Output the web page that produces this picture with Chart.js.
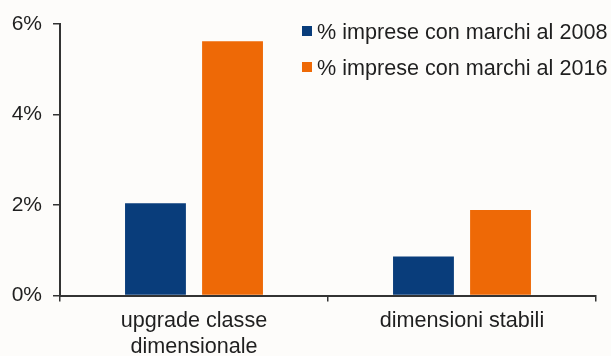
<!DOCTYPE html>
<html lang="it">
<head>
<meta charset="utf-8">
<title>Imprese con marchi</title>
<script src="https://cdn.jsdelivr.net/npm/chart.js@4.4.1/dist/chart.umd.min.js"></script>
<style>
  html, body { margin: 0; padding: 0; background: #fdfcfa; }
  #box { width: 611px; height: 356px; position: relative; }
</style>
</head>
<body>
<div id="box"><canvas id="grafico"></canvas></div>
<script>
// Dati
var categorie = [['upgrade classe', 'dimensionale'], 'dimensioni stabili'];
var etichette = ['% imprese con marchi al 2008', '% imprese con marchi al 2016'];
var valori2008 = [2.04, 0.86];
var valori2016 = [5.62, 1.89];
var tickY = [0, 2, 4, 6];

var coloreBlu = '#093d7b';
var coloreArancio = '#ee6906';
var coloreAssi = '#333333';
var coloreTesto = '#1f1f1f';
var font = 'Liberation Sans, Arial, sans-serif';

// Legenda disegnata dentro il grafico, in alto a destra
var legendaInterna = {
  id: 'legendaInterna',
  afterDraw: function(chart) {
    var ctx = chart.ctx;
    ctx.save();
    ctx.font = '21.6px ' + font;
    ctx.textBaseline = 'middle';
    ctx.textAlign = 'left';
    chart.data.datasets.forEach(function(ds, i) {
      var y = 33 + i * 36;
      ctx.fillStyle = ds.backgroundColor;
      ctx.fillRect(302, y - 7, 10, 10);
      ctx.fillStyle = coloreTesto;
      ctx.fillText(ds.label, 317, y);
    });
    ctx.restore();
  }
};

var ctx = document.getElementById('grafico').getContext('2d');
new Chart(ctx, {
  type: 'bar',
  data: {
    labels: categorie,
    datasets: [{
      label: etichette[0],
      data: valori2008,
      backgroundColor: coloreBlu
    }, {
      label: etichette[1],
      data: valori2016,
      backgroundColor: coloreArancio
    }]
  },
  options: {
    responsive: true,
    maintainAspectRatio: false,
    animation: false,
    categoryPercentage: 0.575,
    barPercentage: 0.79,
    layout: { padding: { top: 24, right: 15, bottom: 0, left: 0 } },
    plugins: {
      legend: { display: false },
      tooltip: { enabled: false }
    },
    scales: {
      x: {
        grid: {
          offset: true,
          drawOnChartArea: false,
          drawTicks: true,
          tickLength: 6,
          color: coloreAssi,
          lineWidth: 1.5
        },
        border: { display: true, color: coloreAssi, width: 2 },
        ticks: {
          color: coloreTesto,
          padding: 7,
          maxRotation: 0,
          font: { family: font, size: 21.6, lineHeight: 1.2 }
        },
        afterFit: function(scale) { scale.height = 60.5; }
      },
      y: {
        min: 0,
        max: 6,
        afterBuildTicks: function(scale) {
          scale.ticks = tickY.map(function(v) { return { value: v }; });
        },
        grid: {
          drawOnChartArea: false,
          drawTicks: true,
          tickLength: 7,
          color: coloreAssi,
          lineWidth: 1.5
        },
        border: { display: true, color: coloreAssi, width: 2 },
        ticks: {
          color: coloreTesto,
          padding: 11,
          font: { family: font, size: 21 },
          callback: function(v) { return v + '%'; }
        },
        afterFit: function(scale) { scale.width = 60; }
      }
    }
  },
  plugins: [legendaInterna]
});
</script>
</body>
</html>
